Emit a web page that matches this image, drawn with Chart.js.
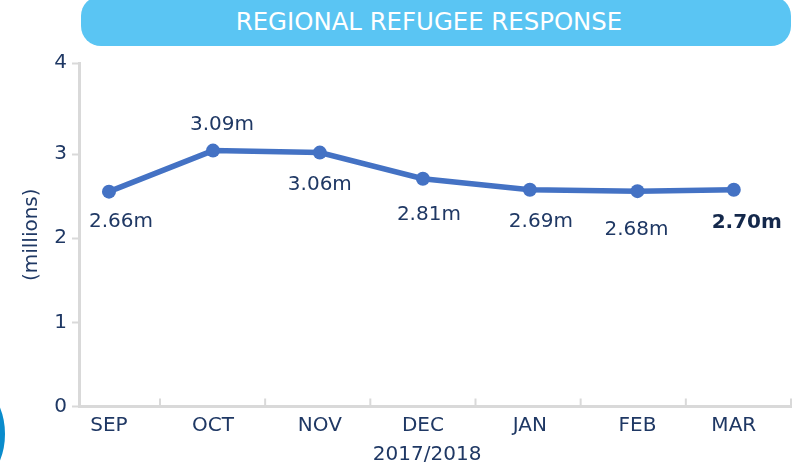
<!DOCTYPE html>
<html>
<head>
<meta charset="utf-8">
<script src="https://cdn.jsdelivr.net/npm/chart.js@4/dist/chart.umd.min.js"></script>
<style>
  html, body { margin: 0; padding: 0; background: #fff; overflow: hidden; }
  #wrap { position: relative; width: 795px; height: 473px; overflow: hidden; }
  #banner {
    position: absolute; left: 81px; top: -4px; width: 696px; height: 50px; padding-right: 14px;
    background: #5ac5f3; border-radius: 20px; color: #fff;
    font: 24.4px "DejaVu Sans", sans-serif; text-align: center; line-height: 52px;
  }
  #ring {
    position: absolute; left: -135px; top: 364px; width: 130px; height: 130px;
    border: 5px solid #0a8ccc; border-radius: 50%;
  }
  canvas { position: absolute; left: 0; top: 0; }
</style>
</head>
<body>
<div id="wrap">
  <div id="banner">REGIONAL REFUGEE RESPONSE</div>
  <div id="ring"></div>
  <canvas id="refugeeChart" width="795" height="473"></canvas>
</div>
<script>
const months = ['SEP', 'OCT', 'NOV', 'DEC', 'JAN', 'FEB', 'MAR'];
const monthPositions = [0.015, 1.004, 2.02, 3.0, 4.017, 5.04, 5.956];
const plotted = [2.554, 3.042, 3.018, 2.708, 2.577, 2.56, 2.577];
const valueLabels = ['2.66m', '3.09m', '3.06m', '2.81m', '2.69m', '2.68m', '2.70m'];
const yTicks = [0, 1, 2, 3, 4.083];
const xTickMarks = [0.5, 1.5, 2.5, 3.5, 4.5, 5.5, 6.5];
const xAxisTitle = '2017/2018';

const navy = '#1f3864';
const fontFamily = '"DejaVu Sans", sans-serif';
const labelOffsets = [[12, 30], [9, -26], [0, 32], [6, 36], [11, 32], [-1, 39], [13, 33]];

const valueLabelPlugin = {
  id: 'valueLabels',
  afterDatasetsDraw(chart) {
    const { ctx, scales } = chart;
    ctx.save();
    ctx.textAlign = 'center';
    ctx.textBaseline = 'middle';
    valueLabels.forEach((text, i) => {
      const last = i === valueLabels.length - 1;
      ctx.font = (last ? 'bold ' : '') + '20px ' + fontFamily;
      ctx.fillStyle = last ? '#14284b' : navy;
      ctx.fillText(text,
        scales.x.getPixelForValue(monthPositions[i]) + labelOffsets[i][0],
        scales.y.getPixelForValue(plotted[i]) + labelOffsets[i][1]);
    });
    // axis title sits left of the plot centre, the built in one can't do that
    ctx.font = '20px ' + fontFamily;
    ctx.fillStyle = navy;
    ctx.fillText(xAxisTitle, scales.x.getPixelForValue(3.04), 455);
    ctx.restore();
  }
};

// small tick marks between the months, pointing up into the plot
const axisTickPlugin = {
  id: 'axisTicks',
  afterDraw(chart) {
    const { ctx, scales } = chart;
    ctx.save();
    ctx.strokeStyle = '#d9d9d9';
    ctx.lineWidth = 2;
    xTickMarks.forEach(value => {
      const x = scales.x.getPixelForValue(value);
      ctx.beginPath();
      ctx.moveTo(x, chart.chartArea.bottom);
      ctx.lineTo(x, chart.chartArea.bottom - 8);
      ctx.stroke();
    });
    ctx.restore();
  }
};

new Chart(document.getElementById('refugeeChart'), {
  type: 'line',
  data: {
    datasets: [{
      data: monthPositions.map((x, i) => ({ x, y: plotted[i] })),
      borderColor: '#4472c4',
      backgroundColor: '#4472c4',
      borderWidth: 5.5,
      pointRadius: 7,
      pointBorderWidth: 0,
      pointHoverRadius: 7,
      tension: 0
    }]
  },
  options: {
    responsive: false,
    animation: false,
    layout: { autoPadding: false, padding: { left: 0, right: 4, top: 63, bottom: 0 } },
    plugins: { legend: { display: false }, tooltip: { enabled: false } },
    scales: {
      x: {
        type: 'linear',
        min: -0.27,
        max: 6.5,
        afterBuildTicks(axis) {
          axis.ticks = monthPositions.map(value => ({ value }));
        },
        afterFit(axis) {
          axis.height = 66.5;
        },
        grid: { drawOnChartArea: false, tickLength: 6, tickColor: 'transparent' },
        border: { color: '#d9d9d9', width: 3 },
        ticks: {
          autoSkip: false,
          maxRotation: 0,
          padding: 1,
          color: navy,
          font: { family: fontFamily, size: 20 },
          callback: (value, index) => months[index]
        }
      },
      y: {
        min: 0,
        max: 4.083,
        afterBuildTicks(axis) {
          axis.ticks = yTicks.map(value => ({ value }));
        },
        afterFit(axis) {
          axis.width = 79;
        },
        grid: { drawOnChartArea: false, tickLength: 7, tickColor: '#d9d9d9', tickWidth: 2 },
        border: { color: '#d9d9d9', width: 3 },
        ticks: {
          padding: 5,
          color: navy,
          font: { family: fontFamily, size: 20 },
          callback: value => Math.floor(value)
        },
        title: {
          display: true,
          text: '(millions)',
          color: navy,
          padding: { top: 20, bottom: 0 },
          font: { family: fontFamily, size: 20 }
        }
      }
    }
  },
  plugins: [valueLabelPlugin, axisTickPlugin]
});
</script>
</body>
</html>
